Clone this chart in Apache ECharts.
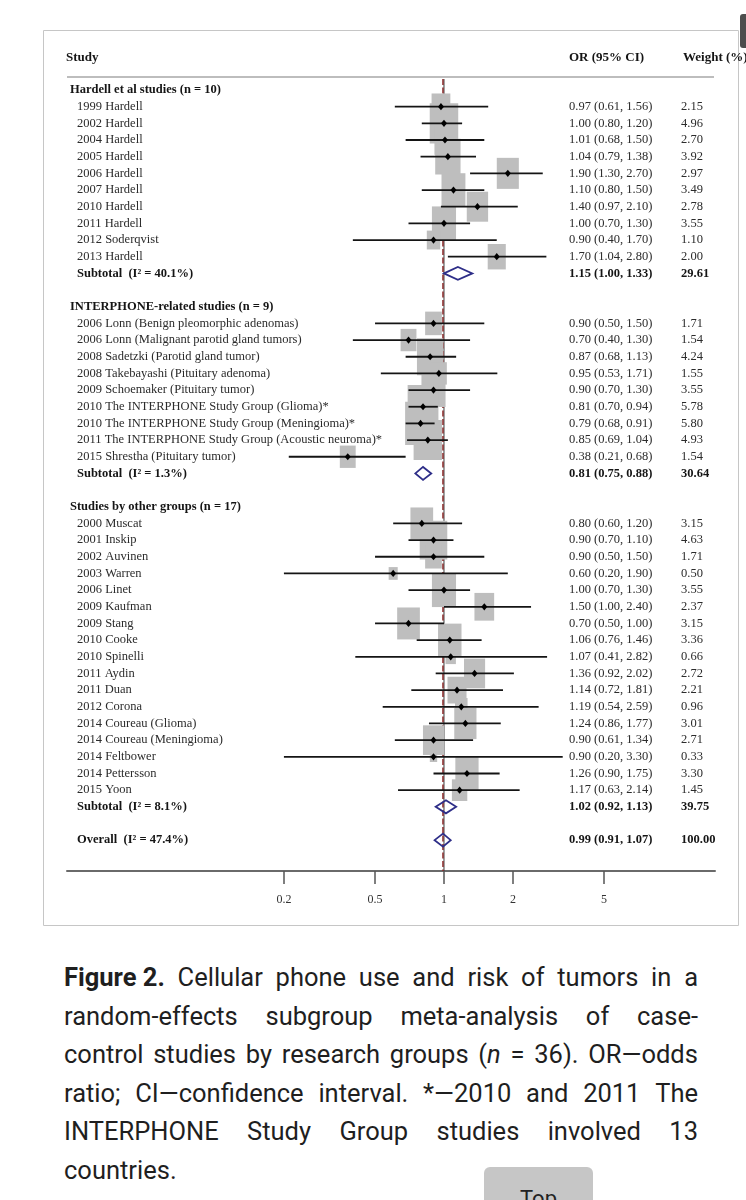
<!DOCTYPE html>
<html>
<head>
<meta charset="utf-8">
<script src="https://cdn.jsdelivr.net/npm/echarts@6/dist/echarts.min.js"></script>
<style>
  html, body { margin: 0; padding: 0; background: #fff; width: 746px; height: 1200px; overflow: hidden; }
  #chart { position: absolute; left: 0; top: 0; width: 746px; height: 940px; }
  #caption { position: absolute; left: 64px; top: 958px; width: 634px;
             font-family: Roboto, "Noto Sans", sans-serif; font-size: 25.5px; line-height: 38.6px; color: #1f1f1f; }
  #caption .l { display: flex; justify-content: space-between; white-space: nowrap; }
  #caption .last { display: block; }
  #topbtn { position: absolute; left: 484px; top: 1167px; width: 109px; height: 44px; background: #c6c6c6;
            border-radius: 6px; font-family: Roboto, sans-serif; font-size: 22px; color: #222;
            text-align: center; line-height: 64px; }
</style>
</head>
<body>
<div id="chart"></div>
<div id="caption">
  <div class="l"><b>Figure 2.</b><span>Cellular</span><span>phone</span><span>use</span><span>and</span><span>risk</span><span>of</span><span>tumors</span><span>in</span><span>a</span></div>
  <div class="l"><span>random-effects</span><span>subgroup</span><span>meta-analysis</span><span>of</span><span>case-</span></div>
  <div class="l"><span>control</span><span>studies</span><span>by</span><span>research</span><span>groups</span><span>(<i>n</i></span><span>=</span><span>36).</span><span>OR—odds</span></div>
  <div class="l"><span>ratio;</span><span>CI—confidence</span><span>interval.</span><span>*—2010</span><span>and</span><span>2011</span><span>The</span></div>
  <div class="l"><span>INTERPHONE</span><span>Study</span><span>Group</span><span>studies</span><span>involved</span><span>13</span></div>
  <div class="last">countries.</div>
</div>
<div id="topbtn">Top</div>
<script>
// ---------------- DATA ----------------
const COLUMN_HEADERS = ['Study', 'OR (95% CI)', 'Weight (%)'];
const GROUP_LABELS = ['Hardell et al studies (n = 10)', 'INTERPHONE-related studies (n = 9)', 'Studies by other groups (n = 17)'];
const GROUP_SIZES = [10, 9, 17];
const STUDIES = [
  '1999 Hardell', '2002 Hardell', '2004 Hardell', '2005 Hardell', '2006 Hardell',
  '2007 Hardell', '2010 Hardell', '2011 Hardell', '2012 Soderqvist', '2013 Hardell',
  '2006 Lonn (Benign pleomorphic adenomas)', '2006 Lonn (Malignant parotid gland tumors)',
  '2008 Sadetzki (Parotid gland tumor)', '2008 Takebayashi (Pituitary adenoma)',
  '2009 Schoemaker (Pituitary tumor)', '2010 The INTERPHONE Study Group (Glioma)*',
  '2010 The INTERPHONE Study Group (Meningioma)*', '2011 The INTERPHONE Study Group (Acoustic neuroma)*',
  '2015 Shrestha (Pituitary tumor)',
  '2000 Muscat', '2001 Inskip', '2002 Auvinen', '2003 Warren', '2006 Linet', '2009 Kaufman',
  '2009 Stang', '2010 Cooke', '2010 Spinelli', '2011 Aydin', '2011 Duan', '2012 Corona',
  '2014 Coureau (Glioma)', '2014 Coureau (Meningioma)', '2014 Feltbower', '2014 Pettersson', '2015 Yoon'
];
const OR_VALUES = [0.97, 1.00, 1.01, 1.04, 1.90, 1.10, 1.40, 1.00, 0.90, 1.70,
  0.90, 0.70, 0.87, 0.95, 0.90, 0.81, 0.79, 0.85, 0.38,
  0.80, 0.90, 0.90, 0.60, 1.00, 1.50, 0.70, 1.06, 1.07, 1.36, 1.14, 1.19, 1.24, 0.90, 0.90, 1.26, 1.17];
const CI_LOW = [0.61, 0.80, 0.68, 0.79, 1.30, 0.80, 0.97, 0.70, 0.40, 1.04,
  0.50, 0.40, 0.68, 0.53, 0.70, 0.70, 0.68, 0.69, 0.21,
  0.60, 0.70, 0.50, 0.20, 0.70, 1.00, 0.50, 0.76, 0.41, 0.92, 0.72, 0.54, 0.86, 0.61, 0.20, 0.90, 0.63];
const CI_HIGH = [1.56, 1.20, 1.50, 1.38, 2.70, 1.50, 2.10, 1.30, 1.70, 2.80,
  1.50, 1.30, 1.13, 1.71, 1.30, 0.94, 0.91, 1.04, 0.68,
  1.20, 1.10, 1.50, 1.90, 1.30, 2.40, 1.00, 1.46, 2.82, 2.02, 1.81, 2.59, 1.77, 1.34, 3.30, 1.75, 2.14];
const WEIGHTS = [2.15, 4.96, 2.70, 3.92, 2.97, 3.49, 2.78, 3.55, 1.10, 2.00,
  1.71, 1.54, 4.24, 1.55, 3.55, 5.78, 5.80, 4.93, 1.54,
  3.15, 4.63, 1.71, 0.50, 3.55, 2.37, 3.15, 3.36, 0.66, 2.72, 2.21, 0.96, 3.01, 2.71, 0.33, 3.30, 1.45];
const SUBTOTAL_LABELS = ['Subtotal  (I² = 40.1%)', 'Subtotal  (I² = 1.3%)', 'Subtotal  (I² = 8.1%)'];
const SUBTOTAL_OR = [1.15, 0.81, 1.02];
const SUBTOTAL_LOW = [1.00, 0.75, 0.92];
const SUBTOTAL_HIGH = [1.33, 0.88, 1.13];
const SUBTOTAL_WEIGHT = [29.61, 30.64, 39.75];
const OVERALL_LABEL = 'Overall  (I² = 47.4%)';
const OVERALL_OR = 0.99, OVERALL_LOW = 0.91, OVERALL_HIGH = 1.07, OVERALL_WEIGHT = 100.00;
const NULL_VALUE = 1;
const AXIS_TICKS = [0.2, 0.5, 1, 2, 5];
const AXIS_TICK_LABELS = ['0.2', '0.5', '1', '2', '5'];

// ---------------- ROW LAYOUT ----------------
const rows = [];
let r = 0, k = 0;
GROUP_SIZES.forEach((n, g) => {
  rows.push({ kind: 'group', row: r++, label: GROUP_LABELS[g] });
  for (let i = 0; i < n; i++, k++) {
    rows.push({ kind: 'study', row: r++, label: STUDIES[k], or: OR_VALUES[k], lo: CI_LOW[k], hi: CI_HIGH[k], w: WEIGHTS[k] });
  }
  rows.push({ kind: 'pooled', row: r++, label: SUBTOTAL_LABELS[g], or: SUBTOTAL_OR[g], lo: SUBTOTAL_LOW[g], hi: SUBTOTAL_HIGH[g], w: SUBTOTAL_WEIGHT[g] });
  r++;
});
rows.push({ kind: 'pooled', row: r, label: OVERALL_LABEL, or: OVERALL_OR, lo: OVERALL_LOW, hi: OVERALL_HIGH, w: OVERALL_WEIGHT });

const L = Math.log10;
const studyRows = rows.filter(d => d.kind === 'study');
const pooledRows = rows.filter(d => d.kind === 'pooled');

const SERIF = '"Liberation Serif", "Times New Roman", serif';
const FS = 12.5;
function txt(x, y, s, bold, size) {
  return { type: 'text', x: x, y: y,
    style: { text: s, font: (bold ? 'bold ' : '') + (size || FS) + 'px ' + SERIF, fill: bold ? '#151515' : '#2b2b2b',
      align: 'left', textAlign: 'left', verticalAlign: 'middle', textVerticalAlign: 'middle' } };
}
const fmtCI = d => d.or.toFixed(2) + ' (' + d.lo.toFixed(2) + ', ' + d.hi.toFixed(2) + ')';

const chart = echarts.init(document.getElementById('chart'), null, { renderer: 'canvas' });
const option = {
  animation: false,
  backgroundColor: '#fff',
  grid: { left: 67, right: 31, top: 40, height: 831, outerBoundsMode: 'none', containLabel: false },
  xAxis: {
    type: 'value', min: L(0.02258), max: L(15.26),
    axisLine: { show: true, onZero: false, lineStyle: { color: '#6a6a6a', width: 2 } },
    axisTick: { show: true, customValues: AXIS_TICKS.map(L), length: 13, lineStyle: { color: '#555', width: 1.5 } },
    axisLabel: { show: true, customValues: AXIS_TICKS.map(L), margin: 23, color: '#333', fontFamily: SERIF, fontSize: 12,
      formatter: v => { const i = AXIS_TICKS.findIndex(t => Math.abs(L(t) - v) < 1e-6); return i >= 0 ? AXIS_TICK_LABELS[i] : ''; } },
    splitLine: { show: false }
  },
  yAxis: { type: 'value', inverse: true, min: -3, max: 46.85, show: false, splitLine: { show: false } },
  graphic: [
    { type: 'rect', shape: { x: 43.5, y: 30.5, width: 695, height: 895 }, style: { fill: 'none', stroke: '#c6c6c6', lineWidth: 1 }, z: 0 },
    { type: 'line', shape: { x1: 67, y1: 77, x2: 714, y2: 77 }, style: { stroke: '#bdbdbd', lineWidth: 2 } },
    { type: 'rect', shape: { x: 740, y: 14, width: 8, height: 34, r: 3 }, style: { fill: '#4d4d4d' } }
  ],
  series: [
    { // reference lines: null line and overall effect line
      type: 'custom', z: 1, clip: false,
      data: [[L(NULL_VALUE), 0], [L(OVERALL_OR), 1]],
      encode: { x: 0 },
      renderItem: (params, api) => {
        const a = api.coord([api.value(0), -0.66]);
        const b = api.coord([api.value(0), 46.85]);
        const dashed = api.value(1) === 1;
        return { type: 'line', shape: { x1: a[0], y1: a[1], x2: b[0], y2: b[1] },
          style: dashed ? { stroke: '#8a2a2a', lineWidth: 1.5, lineDash: [6, 2.5] } : { stroke: '#3a3a3a', lineWidth: 1 } };
      }
    },
    { // weight boxes
      type: 'custom', z: 2, clip: false,
      data: studyRows.map(d => [L(d.or), d.row, d.w]),
      encode: { x: 0, y: 1 },
      renderItem: (params, api) => {
        const c = api.coord([api.value(0), api.value(1)]);
        const s = Math.sqrt(api.value(2));
        const w = 12.8 * s, h = 18 * s;
        return { type: 'rect', shape: { x: c[0] - w / 2, y: c[1] - h / 2, width: w, height: h }, style: { fill: '#bebebe' } };
      }
    },
    { // CI lines and point estimates
      type: 'custom', z: 3, clip: false,
      data: studyRows.map(d => [L(d.lo), L(d.hi), L(d.or), d.row]),
      encode: { x: [0, 1, 2], y: 3 },
      renderItem: (params, api) => {
        const y = api.value(3);
        const a = api.coord([api.value(0), y]), b = api.coord([api.value(1), y]), c = api.coord([api.value(2), y]);
        return { type: 'group', children: [
          { type: 'line', shape: { x1: a[0], y1: a[1], x2: b[0], y2: b[1] }, style: { stroke: '#141414', lineWidth: 1.8 } },
          { type: 'polygon', shape: { points: [[c[0] - 3, c[1]], [c[0], c[1] - 3.6], [c[0] + 3, c[1]], [c[0], c[1] + 3.6]] }, style: { fill: '#000' } }
        ] };
      }
    },
    { // pooled diamonds
      type: 'custom', z: 3, clip: false,
      data: pooledRows.map(d => [L(d.lo), L(d.hi), L(d.or), d.row]),
      encode: { x: [0, 1, 2], y: 3 },
      renderItem: (params, api) => {
        const y = api.value(3);
        const a = api.coord([api.value(0), y]), b = api.coord([api.value(1), y]), c = api.coord([api.value(2), y]);
        const h = 6.5;
        return { type: 'polygon', shape: { points: [[a[0], a[1]], [c[0], c[1] - h], [b[0], b[1]], [c[0], c[1] + h]] },
          style: { fill: 'none', stroke: '#2e2e88', lineWidth: 1.8 } };
      }
    },
    { // text columns
      type: 'custom', z: 4, clip: false,
      data: [[0, -1.93]].concat(rows.map(d => [0, d.row])),
      encode: { y: 1 },
      renderItem: (params, api) => {
        const y = api.coord([0, api.value(1)])[1];
        if (params.dataIndex === 0) {
          return { type: 'group', children: [
            txt(66, y, COLUMN_HEADERS[0], true, 13), txt(569, y, COLUMN_HEADERS[1], true, 13), txt(683, y, COLUMN_HEADERS[2], true, 13)
          ] };
        }
        const d = rows[params.dataIndex - 1];
        if (d.kind === 'group') return txt(70, y, d.label, true);
        const bold = d.kind === 'pooled';
        return { type: 'group', children: [
          txt(77, y, d.label, bold), txt(569, y, fmtCI(d), bold), txt(681, y, d.w.toFixed(2), bold)
        ] };
      }
    }
  ]
};
chart.setOption(option);
</script>
</body>
</html>
